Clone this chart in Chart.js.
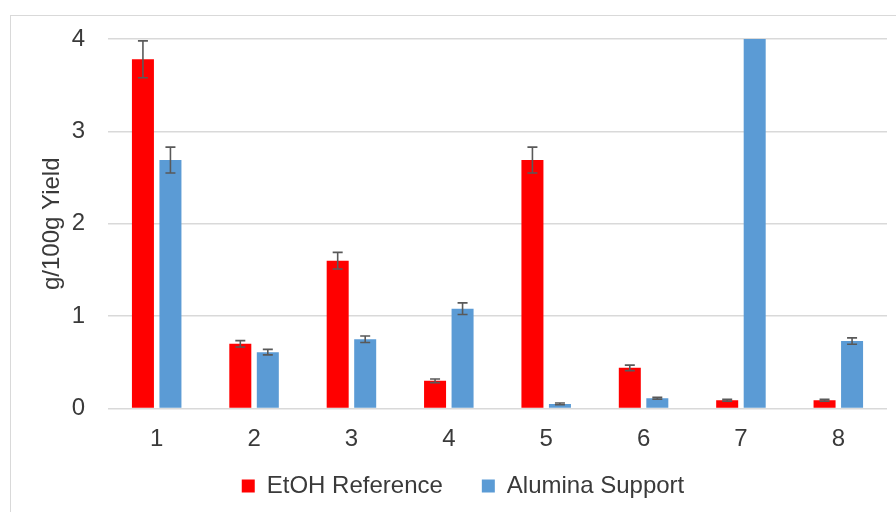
<!DOCTYPE html>
<html>
<head>
<meta charset="utf-8">
<script src="https://cdn.jsdelivr.net/npm/chart.js@4.4.0/dist/chart.umd.min.js"></script>
<style>
  html, body { margin: 0; padding: 0; background: #fff; overflow: hidden; }
  #wrap { position: relative; width: 896px; height: 512px; overflow: hidden; }
  #frame { position: absolute; left: 10px; top: 15px; width: 920px; height: 520px; border: 1px solid #d9d9d9; }
  canvas { position: absolute; left: 0; top: 0; }
</style>
</head>
<body>
<div id="wrap">
  <div id="frame"></div>
  <canvas id="yield-chart" width="896" height="526"></canvas>
</div>
<script>
const samples = ["1", "2", "3", "4", "5", "6", "7", "8"];
const etohYield = [3.78, 0.70, 1.60, 0.30, 2.69, 0.44, 0.09, 0.09];
const etohErr = [0.20, 0.035, 0.09, 0.02, 0.14, 0.03, 0.01, 0.01];
const aluminaYield = [2.69, 0.61, 0.75, 1.08, 0.05, 0.11, 4.0, 0.73];
const aluminaErr = [0.14, 0.03, 0.035, 0.063, 0.01, 0.01, 0, 0.035];
const yTicks = [0, 1, 2, 3, 4];

const textColor = "#3a3a3a";
const fontFamily = "'Liberation Sans', Arial, sans-serif";

// draws +/- error whiskers on top of each bar
const errorBars = {
  id: "errorBars",
  afterDatasetsDraw(chart) {
    const { ctx, chartArea, scales: { y } } = chart;
    ctx.save();
    ctx.beginPath();
    ctx.rect(chartArea.left, chartArea.top, chartArea.width, chartArea.height);
    ctx.clip();
    ctx.strokeStyle = "#595959";
    ctx.lineWidth = 1.6;
    chart.data.datasets.forEach((ds, i) => {
      const meta = chart.getDatasetMeta(i);
      meta.data.forEach((bar, j) => {
        const e = ds.errors[j];
        if (!e) return;
        const v = ds.data[j];
        const yTop = y.getPixelForValue(v + e);
        const yBot = y.getPixelForValue(v - e);
        const x = bar.x;
        ctx.beginPath();
        ctx.moveTo(x, yTop); ctx.lineTo(x, yBot);
        ctx.moveTo(x - 5, yTop); ctx.lineTo(x + 5, yTop);
        ctx.moveTo(x - 5, yBot); ctx.lineTo(x + 5, yBot);
        ctx.stroke();
      });
    });
    ctx.restore();
  }
};

// pull the legend row up closer to the axis labels
const legendLift = {
  id: "legendLift",
  afterLayout(chart) {
    const lg = chart.legend;
    if (!lg) return;
    lg.top -= 17.5;
    lg.bottom -= 17.5;
  }
};

const ctx = document.getElementById("yield-chart").getContext("2d");

new Chart(ctx, {
  type: "bar",
  data: {
    labels: samples,
    datasets: [
      {
        label: "EtOH Reference",
        data: etohYield,
        errors: etohErr,
        backgroundColor: "#ff0000",
        categoryPercentage: 0.565,
        barPercentage: 0.8
      },
      {
        label: "Alumina Support",
        data: aluminaYield,
        errors: aluminaErr,
        backgroundColor: "#5b9bd5",
        categoryPercentage: 0.565,
        barPercentage: 0.8
      }
    ]
  },
  options: {
    responsive: false,
    animation: false,
    layout: { padding: { left: 39, right: 9, top: 39, bottom: 0.5 } },
    plugins: {
      tooltip: { enabled: false },
      legend: {
        position: "bottom",
        labels: {
          boxWidth: 13,
          boxHeight: 13,
          padding: 39,
          color: textColor,
          font: { family: fontFamily, size: 24 }
        }
      }
    },
    scales: {
      x: {
        grid: { display: false },
        border: { display: false },
        ticks: {
          color: textColor,
          padding: 8,
          font: { family: fontFamily, size: 24 }
        },
        afterFit: s => { s.height = 44; }
      },
      y: {
        min: 0,
        max: 4,
        afterBuildTicks: s => { s.ticks = yTicks.map(v => ({ value: v })); },
        grid: { color: "#d9d9d9", lineWidth: 1.5, drawTicks: false },
        border: { display: false },
        ticks: {
          color: textColor,
          padding: 23,
          font: { family: fontFamily, size: 24 }
        },
        title: {
          display: true,
          text: "g/100g Yield",
          color: textColor,
          padding: { top: 1, bottom: 0 },
          font: { family: fontFamily, size: 24, lineHeight: 1 }
        },
        afterFit: s => { s.width = 69; }
      }
    }
  },
  plugins: [errorBars, legendLift]
});
</script>
</body>
</html>
